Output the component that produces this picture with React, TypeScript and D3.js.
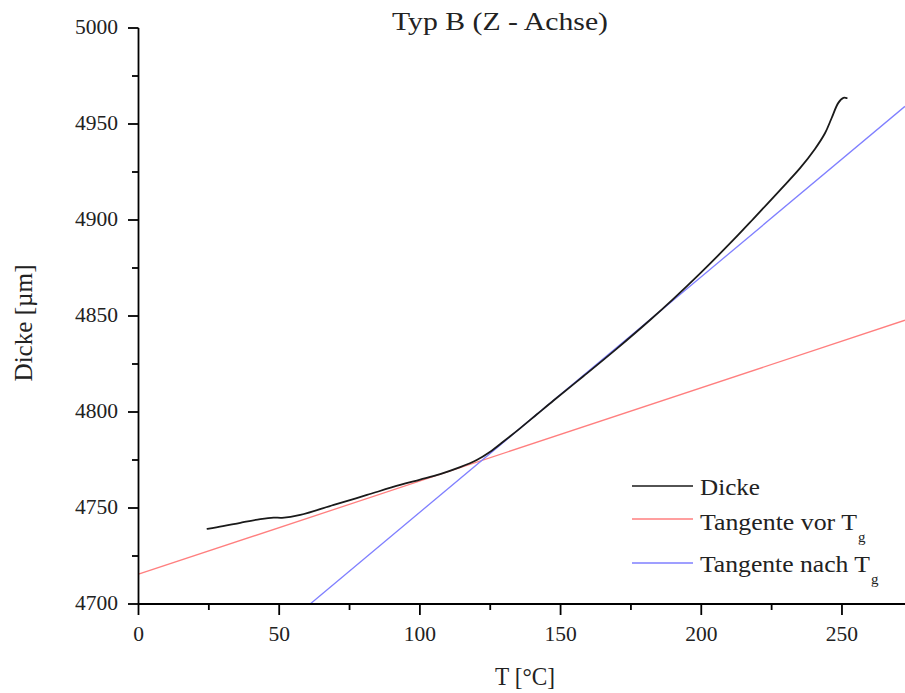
import React from "react";
import * as d3 from "d3";

const dickeT = [24.5, 30, 36.2, 43.3, 48, 51, 57.5, 69.4, 81.2, 93, 100.1, 107.2, 114.3, 120.2, 125, 129.7, 135.7, 141.6, 147.5, 158.1, 170, 181.8, 190, 199.6, 211.4, 218.5, 228, 235.1, 240.4, 244, 246.3, 248.7, 250.5, 251.7];
const dickeV = [4739.1, 4740.5, 4742.3, 4744.2, 4745, 4744.9, 4746.4, 4751.6, 4756.8, 4762, 4764.8, 4767.7, 4771.3, 4775, 4779.3, 4784.6, 4791.6, 4798.8, 4806, 4818.6, 4833, 4847.9, 4858.8, 4872.2, 4889.6, 4900.6, 4915.6, 4927, 4937, 4945.3, 4953, 4961, 4963.6, 4963.5];
const vorT = [0, 272.4];
const vorV = [4715.5, 4847.8];
const nachT = [61, 272.4];
const nachV = [4700, 4959.2];
const xTicks = [0, 50, 100, 150, 200, 250];
const xMinor = [25, 75, 125, 175, 225];
const yTicks = [4700, 4750, 4800, 4850, 4900, 4950, 5000];
const yMinor = [4725, 4775, 4825, 4875, 4925, 4975];
const legendItems = [
  { label: "Dicke", sub: "", color: "#1a1a1a", width: 60 },
  { label: "Tangente vor T", sub: "g", color: "#ff7f7f", width: 165 },
  { label: "Tangente nach T", sub: "g", color: "#7f7fff", width: 178 },
];

const W = 905;
const H = 693;
const FONT = "'Liberation Serif', 'DejaVu Serif', serif";

export default function App() {
  const x = d3.scaleLinear().domain([0, 272.4]).range([138.5, 905]);
  const y = d3.scaleLinear().domain([4700, 5000]).range([604, 28]);
  const line = d3
    .line<[number, number]>()
    .x((d) => x(d[0]))
    .y((d) => y(d[1]))
    .curve(d3.curveCatmullRom.alpha(0.5));
  const straight = d3
    .line<[number, number]>()
    .x((d) => x(d[0]))
    .y((d) => y(d[1]));
  const dicke = dickeT.map((t, i) => [t, dickeV[i]] as [number, number]);
  const vor = vorT.map((t, i) => [t, vorV[i]] as [number, number]);
  const nach = nachT.map((t, i) => [t, nachV[i]] as [number, number]);
  const legendRows = [486, 519, 563];
  const legendBase = [495, 530, 572];

  return (
    <svg
      width={W}
      height={H}
      style={{ position: "absolute", left: 0, top: 0, background: "#fff" }}
      fontFamily={FONT}
    >
      <defs>
        <clipPath id="plot">
          <rect x={138} y={0} width={W - 138} height={604} />
        </clipPath>
      </defs>
      <g clipPath="url(#plot)">
        <path d={straight(vor) || ""} fill="none" stroke="#ff7f7f" strokeWidth={1.3} />
        <path d={straight(nach) || ""} fill="none" stroke="#7f7fff" strokeWidth={1.3} />
        <path d={line(dicke) || ""} fill="none" stroke="#1a1a1a" strokeWidth={1.8} strokeLinecap="round" />
      </g>
      {/* axes */}
      <line x1={x(0)} x2={W} y1={604} y2={604} stroke="#000" strokeWidth={1.8} />
      <line x1={x(0)} x2={x(0)} y1={y(5000)} y2={604} stroke="#000" strokeWidth={1.8} />
      {xTicks.map((t) => (
        <g key={"xt" + t}>
          <line x1={x(t)} x2={x(t)} y1={604} y2={615} stroke="#000" strokeWidth={1.8} />
          <text x={x(t)} y={641} textAnchor="middle" fontSize={21.5} fill="#222">
            {t}
          </text>
        </g>
      ))}
      {xMinor.map((t) => (
        <line key={"xm" + t} x1={x(t)} x2={x(t)} y1={604} y2={610} stroke="#000" strokeWidth={1.8} />
      ))}
      {yTicks.map((v) => (
        <g key={"yt" + v}>
          <line x1={128} x2={x(0)} y1={y(v)} y2={y(v)} stroke="#000" strokeWidth={1.8} />
          <text x={118} y={y(v) + 6} textAnchor="end" fontSize={21.5} fill="#222">
            {v}
          </text>
        </g>
      ))}
      {yMinor.map((v) => (
        <line key={"ym" + v} x1={132} x2={x(0)} y1={y(v)} y2={y(v)} stroke="#000" strokeWidth={1.8} />
      ))}
      {/* title and labels */}
      <text x={500} y={30} textAnchor="middle" fontSize={26} fill="#222" textLength={216} lengthAdjust="spacingAndGlyphs">
        Typ B (Z - Achse)
      </text>
      <text
        transform="translate(32,323) rotate(-90)"
        textAnchor="middle"
        fontSize={25}
        fill="#222"
        textLength={117}
        lengthAdjust="spacingAndGlyphs"
      >
        Dicke [µm]
      </text>
      <text x={525} y={685} textAnchor="middle" fontSize={25} fill="#222" textLength={60} lengthAdjust="spacingAndGlyphs">
        T [°C]
      </text>
      {/* legend */}
      {legendItems.map((it, i) => (
        <g key={it.label}>
          <line x1={632} x2={693} y1={legendRows[i]} y2={legendRows[i]} stroke={it.color} strokeWidth={1.5} />
          <text x={700} y={legendBase[i]} fontSize={24} fill="#222" textLength={it.sub ? it.width - 8 : it.width} lengthAdjust="spacingAndGlyphs">
            {it.label}
          </text>
          {it.sub && (
            <text x={700 + it.width - 7} y={legendBase[i] + 12} fontSize={15} fill="#222">
              {it.sub}
            </text>
          )}
        </g>
      ))}
    </svg>
  );
}
